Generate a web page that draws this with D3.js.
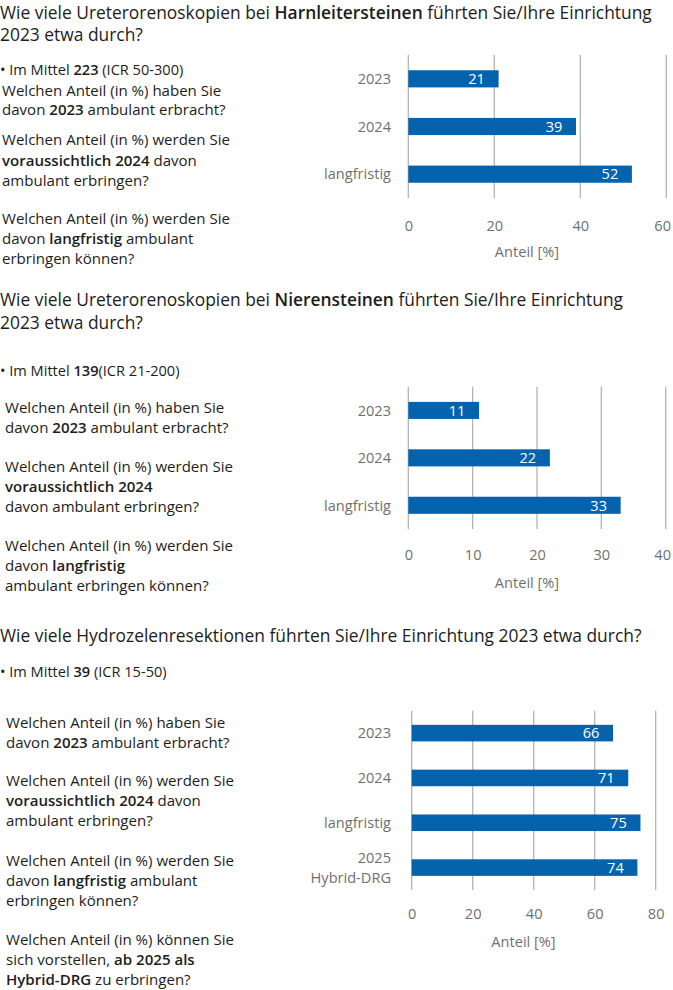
<!DOCTYPE html>
<html><head><meta charset="utf-8">
<script src="https://cdn.jsdelivr.net/npm/d3@7"></script>
<style>
html,body{margin:0;padding:0;background:#fff;}
svg{display:block;}
</style></head>
<body>
<svg id="c" width="673" height="990"></svg>
<script>
// ---------- data ----------
const categories1 = ["2023", "2024", "langfristig"];
const values1 = [21, 39, 52];
const ticks1 = [0, 20, 40, 60];

const categories2 = ["2023", "2024", "langfristig"];
const values2 = [11, 22, 33];
const ticks2 = [0, 10, 20, 30, 40];

const categories3 = ["2023", "2024", "langfristig", "2025|Hybrid-DRG"];
const values3 = [66, 71, 75, 74];
const ticks3 = [0, 20, 40, 60, 80];

const axisTitle = "Anteil [%]";

// text lines: segments [text, bold]
const title1 = [
  [["Wie viele Ureterorenoskopien bei ", 0], ["Harnleitersteinen", 1], [" führten Sie/Ihre Einrichtung", 0]],
  [["2023 etwa durch?", 0]]
];
const bullet1 = [["• Im Mittel ", 0], ["223", 1], [" (ICR 50-300)", 0]];
const body1 = [
  [["Welchen Anteil (in %) haben Sie", 0]],
  [["davon ", 0], ["2023", 1], [" ambulant erbracht?", 0]],
  [["Welchen Anteil (in %) werden Sie", 0]],
  [["voraussichtlich 2024", 1], [" davon", 0]],
  [["ambulant erbringen?", 0]],
  [["Welchen Anteil (in %) werden Sie", 0]],
  [["davon ", 0], ["langfristig", 1], [" ambulant", 0]],
  [["erbringen können?", 0]]
];
const title2 = [
  [["Wie viele Ureterorenoskopien bei ", 0], ["Nierensteinen", 1], [" führten Sie/Ihre Einrichtung", 0]],
  [["2023 etwa durch?", 0]]
];
const bullet2 = [["• Im Mittel ", 0], ["139", 1], ["(ICR 21-200)", 0]];
const body2 = [
  [["Welchen Anteil (in %) haben Sie", 0]],
  [["davon ", 0], ["2023", 1], [" ambulant erbracht?", 0]],
  [["Welchen Anteil (in %) werden Sie", 0]],
  [["voraussichtlich 2024", 1]],
  [["davon ambulant erbringen?", 0]],
  [["Welchen Anteil (in %) werden Sie", 0]],
  [["davon ", 0], ["langfristig", 1]],
  [["ambulant erbringen können?", 0]]
];
const title3 = [
  [["Wie viele Hydrozelenresektionen führten Sie/Ihre Einrichtung 2023 etwa durch?", 0]]
];
const bullet3 = [["• Im Mittel ", 0], ["39", 1], [" (ICR 15-50)", 0]];
const body3 = [
  [["Welchen Anteil (in %) haben Sie", 0]],
  [["davon ", 0], ["2023", 1], [" ambulant erbracht?", 0]],
  [["Welchen Anteil (in %) werden Sie", 0]],
  [["voraussichtlich 2024", 1], [" davon", 0]],
  [["ambulant erbringen?", 0]],
  [["Welchen Anteil (in %) werden Sie", 0]],
  [["davon ", 0], ["langfristig", 1], [" ambulant", 0]],
  [["erbringen können?", 0]],
  [["Welchen Anteil (in %) können Sie", 0]],
  [["sich vorstellen, ", 0], ["ab 2025 als", 1]],
  [["Hybrid-DRG", 1], [" zu erbringen?", 0]]
];

// ---------- drawing ----------
const svg = d3.select("#c");
const FONT = "'Open Sans', 'Noto Sans', sans-serif";
const TEXT = "#1d1d1b";
const GRAY = "#6f6f6f";
const BAR = "#0563ad";
const GRID = "#b4b4b4";

// scale factor so Open Sans matches the narrower original face
const probe = svg.append("text").attr("font-family", FONT).attr("font-size", 16)
  .text("Welchen Anteil (in %) werden Sie");
const k = Math.min(1, 228 / probe.node().getComputedTextLength());
probe.remove();

function drawLine(x, y, segs, size) {
  const t = svg.append("text").attr("x", x).attr("y", y)
    .attr("font-family", FONT).attr("font-size", size * k).attr("fill", TEXT);
  segs.forEach(s => t.append("tspan").attr("font-weight", s[1] ? 600 : 400).text(s[0]));
  return t;
}
function drawBlock(x, ys, lines, size) {
  lines.forEach((l, i) => drawLine(x, ys[i], l, size));
}

// section texts
drawBlock(0, [18.5, 41], title1, 18.5);
drawLine(0, 75, bullet1, 15.5);
drawBlock(2, [96, 115, 145, 166, 186, 224, 244, 264], body1, 16);

drawBlock(0, [306, 329], title2, 18.5);
drawLine(0, 376, bullet2, 15.5);
drawBlock(5, [413, 433, 472, 492, 512, 551, 571, 591], body2, 16);

drawBlock(0, [642], title3, 18.5);
drawLine(0, 677, bullet3, 15.5);
drawBlock(6, [728, 748, 786, 806, 826, 866, 886, 906, 945, 965, 985], body3, 16);

// charts
function barChart(cfg) {
  const x = d3.scaleLinear().domain([0, cfg.ticks[cfg.ticks.length - 1]]).range([cfg.x0, cfg.x1]);
  const y = d3.scaleBand().domain(cfg.cats).range([cfg.top, cfg.bottom]).paddingInner(cfg.pad).paddingOuter(cfg.pad / 2);
  const g = svg.append("g");

  // gridlines
  g.selectAll("line.grid").data(cfg.ticks).join("line")
    .attr("x1", d => x(d)).attr("x2", d => x(d))
    .attr("y1", cfg.top).attr("y2", cfg.bottom)
    .attr("stroke", GRID).attr("stroke-width", 1.3);

  // bars
  g.selectAll("rect").data(cfg.vals).join("rect")
    .attr("x", x(0)).attr("y", (d, i) => y(cfg.cats[i]))
    .attr("width", d => x(d) - x(0)).attr("height", y.bandwidth())
    .attr("fill", BAR);

  // value labels
  g.selectAll("text.val").data(cfg.vals).join("text")
    .attr("x", d => x(d) - 22).attr("y", (d, i) => y(cfg.cats[i]) + y.bandwidth() / 2)
    .attr("dy", "0.36em").attr("text-anchor", "middle")
    .attr("font-family", FONT).attr("font-size", 15.5 * k).attr("fill", "#fff")
    .text(d => d);

  // x axis ticks
  const ax = d3.axisBottom(x).tickValues(cfg.ticks).tickSize(0).tickPadding(0);
  const axg = g.append("g").attr("transform", `translate(0,${cfg.tickY})`).call(ax);
  axg.select(".domain").remove();
  axg.selectAll("text").attr("dy", "0.36em").attr("y", 0)
    .attr("font-family", FONT).attr("font-size", 15.5 * k).attr("fill", GRAY)
    .each(function () {
      // keep the last label inside the picture
      const tick = this.parentNode;
      const m = /translate\(([-\d.]+)/.exec(tick.getAttribute("transform"));
      const cx = m ? +m[1] : 0;
      const w = this.getComputedTextLength();
      if (cx + w / 2 > 671) d3.select(this).attr("x", 671 - w / 2 - cx);
    });

  // y category labels
  cfg.cats.forEach((c, i) => {
    const parts = c.split("|");
    const cy = y(c) + y.bandwidth() / 2;
    parts.forEach((p, j) => {
      g.append("text").attr("x", cfg.labelX)
        .attr("y", cy + (j - (parts.length - 1) / 2) * 20.5)
        .attr("dy", "0.36em").attr("text-anchor", "end")
        .attr("font-family", FONT).attr("font-size", 15.5 * k).attr("fill", GRAY)
        .text(p);
    });
  });

  // axis title
  g.append("text").attr("x", cfg.titleX).attr("y", cfg.titleY).attr("dy", "0.36em")
    .attr("text-anchor", "middle").attr("font-family", FONT).attr("font-size", 15.5 * k)
    .attr("fill", GRAY).text(axisTitle);
}

barChart({cats: categories1, vals: values1, ticks: ticks1, x0: 408.3, x1: 666.3,
  top: 55, bottom: 198, pad: 0.64, tickY: 225.5, labelX: 391, titleX: 527, titleY: 251.5});
barChart({cats: categories2, vals: values2, ticks: ticks2, x0: 408.3, x1: 665.7,
  top: 386.7, bottom: 529, pad: 0.64, tickY: 555, labelX: 391, titleX: 527, titleY: 582.5});
barChart({cats: categories3, vals: values3, ticks: ticks3, x0: 411.7, x1: 655.7,
  top: 710.7, bottom: 890, pad: 0.63, tickY: 913.3, labelX: 391, titleX: 523.5, titleY: 942});
</script>
</body></html>
